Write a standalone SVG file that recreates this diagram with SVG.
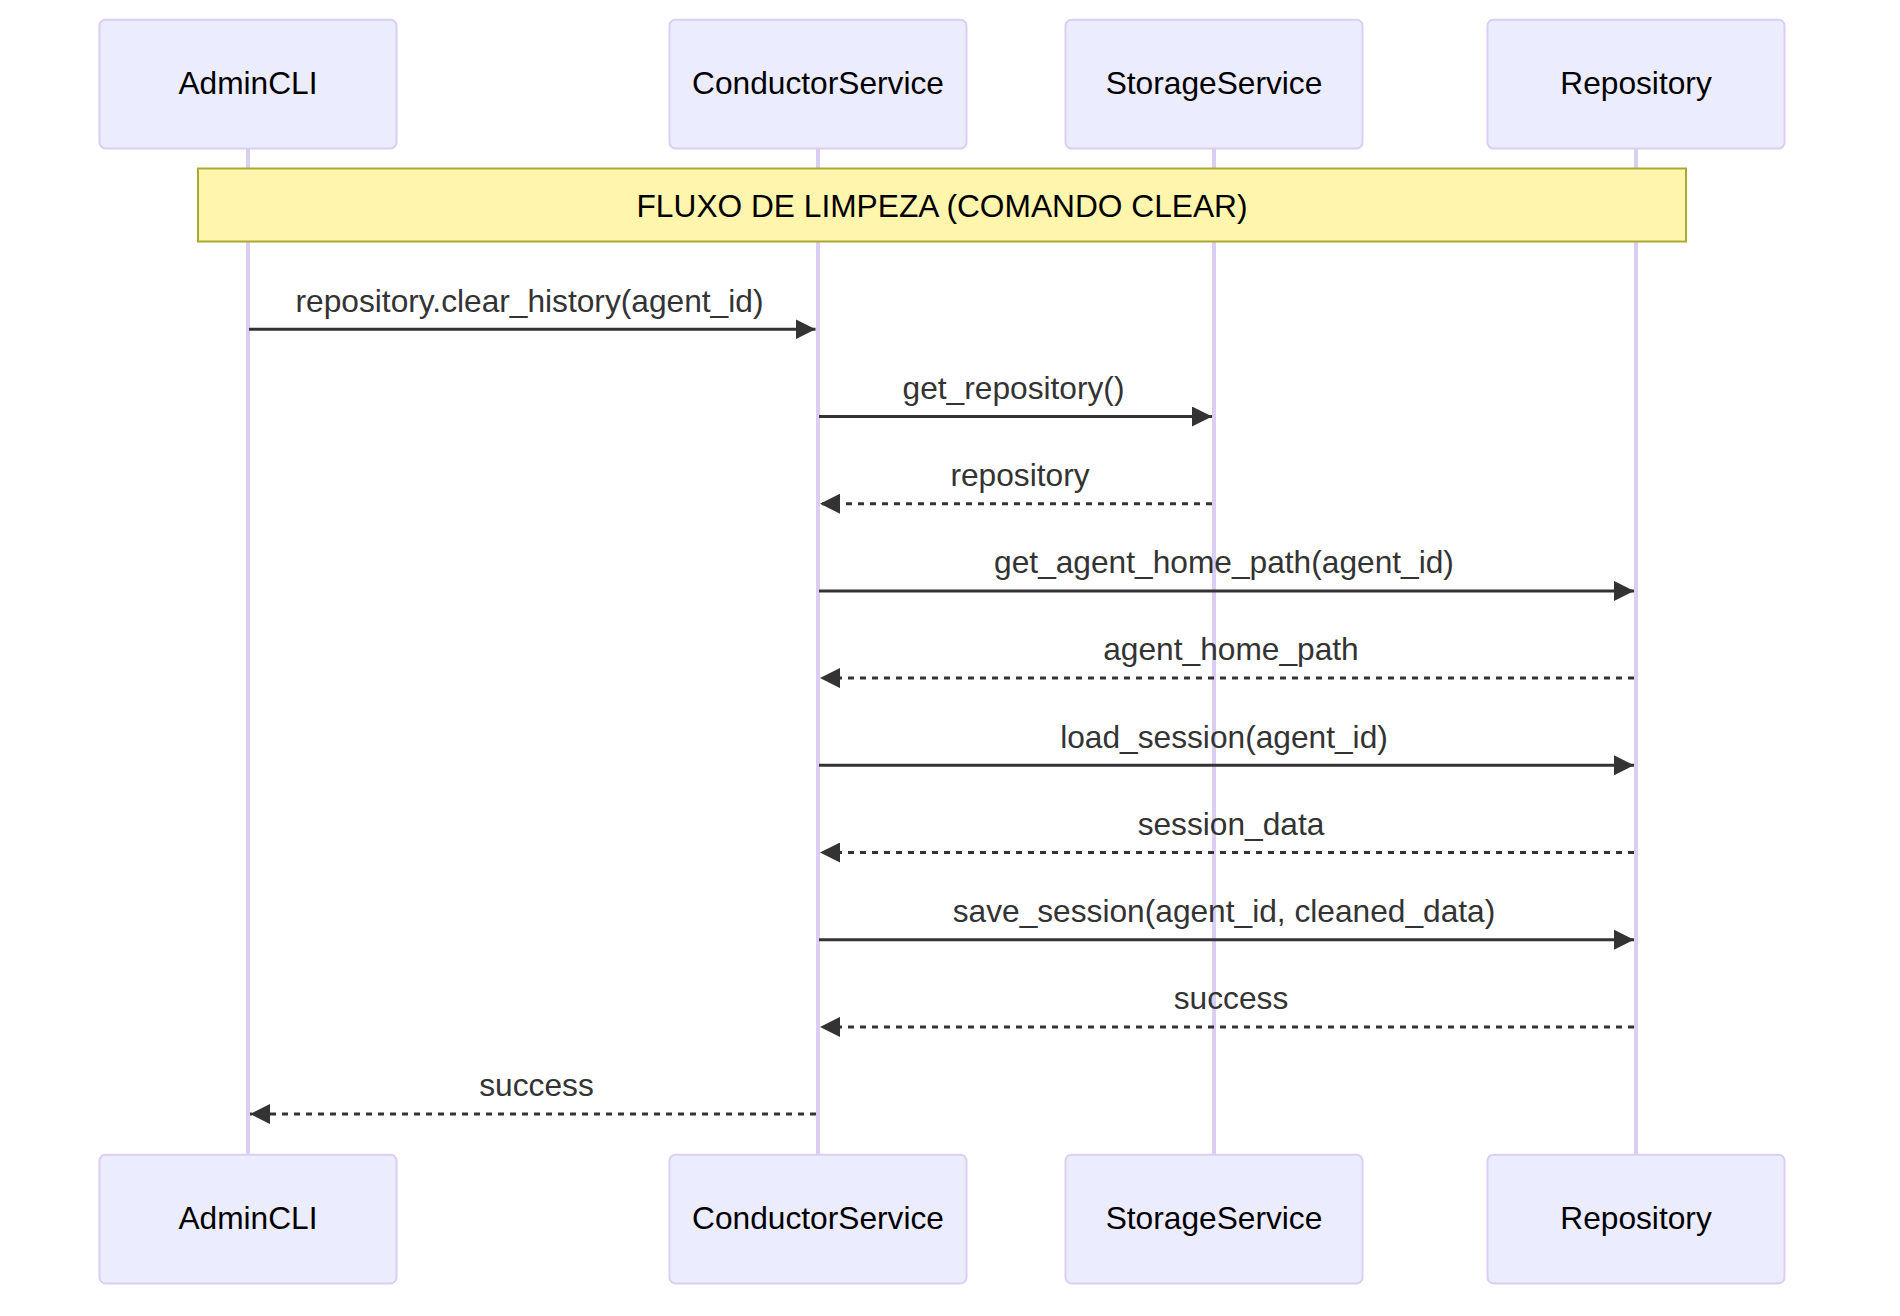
<svg xmlns="http://www.w3.org/2000/svg" width="1900" height="1316" viewBox="0 0 1900 1316">
<style>
.actor{fill:#ECECFF;stroke:#DACEF3;stroke-width:2}
.atext{font-family:"Liberation Sans",Arial,sans-serif;font-size:31.7px;fill:#000;text-anchor:middle}
.life{stroke:#DACEF3;stroke-width:4}
.note{fill:#FFF5AD;stroke:#AAAA33;stroke-width:2}
.ntext{font-family:"Liberation Sans",Arial,sans-serif;font-size:31.7px;fill:#000;text-anchor:middle}
.msg{stroke:#333;stroke-width:3;fill:none;marker-end:url(#ah)}
.dash{stroke-dasharray:6,6}
.mtext{font-family:"Liberation Sans",Arial,sans-serif;font-size:31.7px;fill:#333;text-anchor:middle}
</style>
<defs>
<marker id="ah" viewBox="0 0 10 10" refX="10" refY="5" markerUnits="userSpaceOnUse" markerWidth="20" markerHeight="20" orient="auto">
<path d="M0,0 L10,5 L0,10 z" fill="#333"/>
</marker>
</defs>
<rect width="1900" height="1316" fill="#fff"/>
<g id="lifelines">
<line class="life" x1="248" y1="148.5" x2="248" y2="1155"/>
<line class="life" x1="818" y1="148.5" x2="818" y2="1155"/>
<line class="life" x1="1214" y1="148.5" x2="1214" y2="1155"/>
<line class="life" x1="1636" y1="148.5" x2="1636" y2="1155"/>
</g>
<g id="actor-AdminCLI">
<rect class="actor" x="99.5" y="19.8" width="297" height="128.7" rx="6"/>
<text class="atext" x="248" y="94">AdminCLI</text>
</g>
<g id="actor-ConductorService">
<rect class="actor" x="669.5" y="19.8" width="297" height="128.7" rx="6"/>
<text class="atext" x="818" y="94">ConductorService</text>
</g>
<g id="actor-StorageService">
<rect class="actor" x="1065.5" y="19.8" width="297" height="128.7" rx="6"/>
<text class="atext" x="1214" y="94">StorageService</text>
</g>
<g id="actor-Repository">
<rect class="actor" x="1487.5" y="19.8" width="297" height="128.7" rx="6"/>
<text class="atext" x="1636" y="94">Repository</text>
</g>
<g id="note-fluxo">
<rect class="note" x="198" y="168.5" width="1488" height="73"/>
<text class="ntext" x="942" y="216.5">FLUXO DE LIMPEZA (COMANDO CLEAR)</text>
</g>
<g id="connectors">
<line class="msg" x1="249" y1="329.3" x2="815.5" y2="329.3"/>
<text class="mtext" x="529.5" y="311.5">repository.clear_history(agent_id)</text>
<line class="msg" x1="819" y1="416.5" x2="1212" y2="416.5"/>
<text class="mtext" x="1013.5" y="398.7">get_repository()</text>
<line class="msg dash" x1="1212" y1="503.7" x2="820" y2="503.7"/>
<text class="mtext" x="1020" y="485.9">repository</text>
<line class="msg" x1="819" y1="590.9" x2="1634" y2="590.9"/>
<text class="mtext" x="1224" y="573.1">get_agent_home_path(agent_id)</text>
<line class="msg dash" x1="1634" y1="678.1" x2="820" y2="678.1"/>
<text class="mtext" x="1231" y="660.3">agent_home_path</text>
<line class="msg" x1="819" y1="765.3" x2="1634" y2="765.3"/>
<text class="mtext" x="1224" y="747.5">load_session(agent_id)</text>
<line class="msg dash" x1="1634" y1="852.5" x2="820" y2="852.5"/>
<text class="mtext" x="1231" y="834.7">session_data</text>
<line class="msg" x1="819" y1="939.7" x2="1634" y2="939.7"/>
<text class="mtext" x="1224" y="921.9">save_session(agent_id, cleaned_data)</text>
<line class="msg dash" x1="1634" y1="1026.9" x2="820" y2="1026.9"/>
<text class="mtext" x="1231" y="1009.1">success</text>
<line class="msg dash" x1="816" y1="1114.1" x2="250" y2="1114.1"/>
<text class="mtext" x="536.5" y="1096.3">success</text>
</g>
<g id="actor-AdminCLI-bottom">
<rect class="actor" x="99.5" y="1154.7" width="297" height="128.7" rx="6"/>
<text class="atext" x="248" y="1229.3">AdminCLI</text>
</g>
<g id="actor-ConductorService-bottom">
<rect class="actor" x="669.5" y="1154.7" width="297" height="128.7" rx="6"/>
<text class="atext" x="818" y="1229.3">ConductorService</text>
</g>
<g id="actor-StorageService-bottom">
<rect class="actor" x="1065.5" y="1154.7" width="297" height="128.7" rx="6"/>
<text class="atext" x="1214" y="1229.3">StorageService</text>
</g>
<g id="actor-Repository-bottom">
<rect class="actor" x="1487.5" y="1154.7" width="297" height="128.7" rx="6"/>
<text class="atext" x="1636" y="1229.3">Repository</text>
</g>
</svg>
